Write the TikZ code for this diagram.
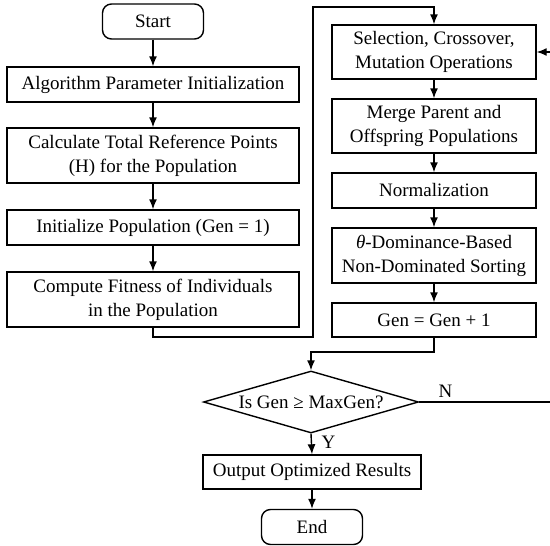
\documentclass[tikz,border=0pt]{standalone}
\usepackage{fontspec}
\setmainfont{Liberation Serif}
\usepackage{tikz}
\usetikzlibrary{calc, arrows.meta, shapes.geometric}

\begin{document}
\begin{tikzpicture}[x=1pt, y=-1pt,
    every node/.style={font=\fontsize{19}{24}\selectfont, align=center},
    procbox/.style={draw, line width=1.4pt, inner sep=0pt, minimum width=#1},
    procbox/.default=292,
    termbox/.style={draw, line width=1.4pt, rounded corners=9pt, inner sep=0pt, minimum width=101, minimum height=35},
    flow/.style={line width=1.4pt, -{Latex[length=10pt,width=8pt]}},
    link/.style={line width=1.4pt}]
      \useasboundingbox (0,0) rectangle (550,546);

      % left column
      \node[termbox] (start) at (153,21.5) {Start};
      \node[procbox, minimum height=35] (alg) at (153,84.5) {Algorithm Parameter Initialization};
      \node[procbox, minimum height=55] (calc) at (153,155.5) {Calculate Total Reference Points\\(H) for the Population};
      \node[procbox, minimum height=35] (init) at (153,227.5) {Initialize Population (Gen = 1)};
      \node[procbox, minimum height=55] (fit) at (153,299.5) {Compute Fitness of Individuals\\in the Population};

      % right column
      \node[procbox=204, minimum height=54] (sel) at (434,52) {Selection, Crossover,\\Mutation Operations};
      \node[procbox=204, minimum height=54] (merge) at (434,126) {Merge Parent and\\Offspring Populations};
      \node[procbox=204, minimum height=35] (norm) at (434,190.5) {Normalization};
      \node[procbox=204, minimum height=55] (theta) at (434,255.5) {\textit{θ}-Dominance-Based\\Non-Dominated Sorting};
      \node[procbox=204, minimum height=34] (gen) at (434,320) {Gen = Gen + 1};

      % bottom part
      \node[draw, diamond, line width=1.4pt, inner sep=0pt, aspect=3.5, minimum width=215, minimum height=62] (check) at (311,402) {Is Gen ≥ MaxGen?};
      \node[procbox=218, minimum height=34] (out) at (312,472) {Output Optimized Results};
      \node[termbox] (stop) at (312,527) {End};

      \coordinate (turnA) at (153,337);
      \coordinate (turnB) at (313,337);
      \coordinate (turnC) at (313,7);
      \coordinate (turnD) at (434,7);
      \coordinate (turnE) at (434,352);
      \coordinate (turnF) at (311,352);
      \coordinate (turnG) at (551,402);
      \coordinate (turnH) at (551,52);

      \draw[flow] (start) -- (alg);
      \draw[flow] (alg) -- (calc);
      \draw[flow] (calc) -- (init);
      \draw[flow] (init) -- (fit);
      \draw[flow] (fit.south) -- (turnA) -- (turnB) -- (turnC) -- (turnD) -- (sel.north);

      \draw[flow] (sel) -- (merge);
      \draw[flow] (merge) -- (norm);
      \draw[flow] (norm) -- (theta);
      \draw[flow] (theta) -- (gen);
      \draw[flow] (gen.south) -- (turnE) -- (turnF) -- (check.north);

      \draw[link] (check.east) -- (turnG) node[pos=0.2, above] {N};
      \draw[flow] (turnG) -- (turnH) -- (sel.east);
      \draw[flow] (check.south) -- (out.north) node[midway, right, xshift=6pt, yshift=2pt] {Y};
      \draw[flow] (out) -- (stop);
\end{tikzpicture}
\end{document}
